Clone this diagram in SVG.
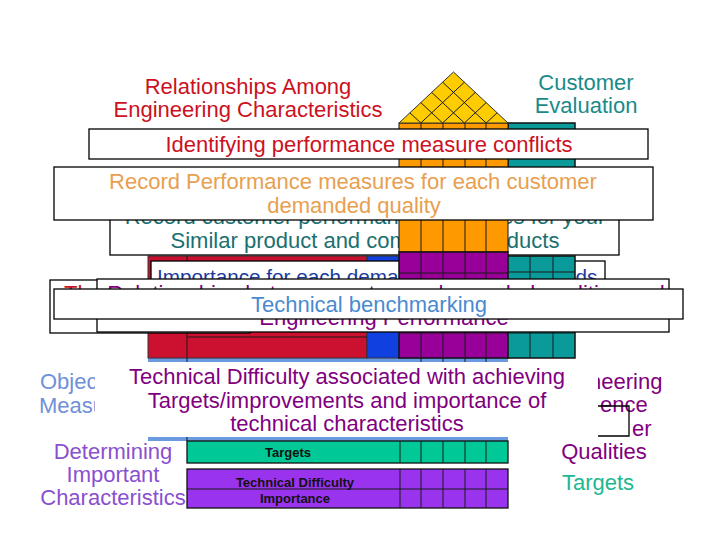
<svg xmlns="http://www.w3.org/2000/svg" width="720" height="540" viewBox="0 0 720 540">
<style>
text{font-family:"Liberation Sans",Arial,sans-serif;font-size:22px}
.c{text-anchor:middle}
.box{fill:#fff;stroke:#000;stroke-width:1.3}
.g{stroke:#1a1a1a;stroke-width:1;fill:none}
.red{fill:#cc1122}
.teal{fill:#1a8a8a}
.pur{fill:#800080}
.sm{font-size:13px;font-weight:bold;fill:#111}
</style>
<rect width="720" height="540" fill="#fff"/>

<g id="house-lower">
  <rect x="148" y="358" width="360" height="83" fill="#6a9ae0"/>
  <rect x="148" y="256" width="219" height="102" fill="#cc1030" stroke="#333" stroke-width="1"/>
  <rect x="367" y="256" width="33" height="102" fill="#1040e0" stroke="#333" stroke-width="1"/>
  <path class="g" d="M187 256V441M187 337H367M421 358V362M443 358V362M465 358V362M486 358V362"/>
</g>

<g id="box-th">
  <rect class="box" x="50" y="280" width="200" height="53"/>
  <text x="64" y="301" class="red">Th</text>
</g>

<g id="box-customer-performance">
  <rect class="box" x="110" y="195" width="509" height="60"/>
  <text x="365" y="224" class="c" fill="#1a7070">Record customer performance measures for your</text>
  <text x="365" y="248" class="c" fill="#1a7070">Similar product and competitor products</text>
</g>

<g id="box-importance">
  <rect class="box" x="151" y="261" width="454" height="45"/>
  <text x="157" y="284" fill="#1a3aa0" style="font-size:20.7px">Importance for each demanded customer needs</text>
</g>

<g id="house-grid">
  <rect x="508" y="123" width="67" height="52" fill="#0a9a9a" stroke="#111" stroke-width="1.5"/>
  <rect x="399" y="123" width="109" height="129" fill="#ff9900" stroke="#111" stroke-width="1"/>
  <path class="g" d="M421 123V252M443 123V252M465 123V252M486 123V252"/>
  <rect x="399" y="252" width="109" height="106" fill="#990099" stroke="#111" stroke-width="1.5"/>
  <path class="g" d="M421 252V358M443 252V358M465 252V358M486 252V358M399 273H508M399 293H508M399 313H508M399 333H508"/>
  <rect x="508" y="256" width="67" height="102" fill="#0a9a9a" stroke="#111" stroke-width="1.5"/>
  <path class="g" d="M530 256V358M553 256V358M508 272H575M508 293H575M508 313H575M508 333H575"/>
  <polygon points="399,123 508,123 453.5,72" fill="#ffcc00" stroke="#333" stroke-width="1"/>
  <path class="g" d="M420.8 123L464.4 82.2M442.6 123L475.3 92.4M464.4 123L486.2 102.6M486.2 123L497.1 112.8M420.8 123L409.9 112.8M442.6 123L420.8 102.6M464.4 123L431.7 92.4M486.2 123L442.6 82.2"/>
</g>

<g id="box-record-performance">
  <rect class="box" x="54" y="167" width="599" height="53"/>
  <text x="353" y="189" class="c" fill="#e8a050">Record Performance measures for each customer</text>
  <text x="354" y="213" class="c" fill="#e8a050">demanded quality</text>
</g>

<g id="box-identifying">
  <rect class="box" x="89" y="129" width="559" height="30"/>
  <text x="369" y="152" class="c red">Identifying performance measure conflicts</text>
</g>

<g id="box-relationships">
  <rect class="box" x="97" y="279" width="572" height="53"/>
  <text x="386" y="301" class="c pur">Relationships between customer demanded qualities and</text>
  <text x="384" y="325" class="c pur">Engineering Performance</text>
</g>

<g id="box-benchmarking">
  <rect class="box" x="54" y="289" width="629" height="30"/>
  <text x="369" y="312" class="c" fill="#4a8ad0">Technical benchmarking</text>
</g>

<g id="labels-top">
  <text x="248" y="94" class="c red">Relationships Among</text>
  <text x="248" y="117" class="c red">Engineering Characteristics</text>
  <text x="586" y="90" class="c teal">Customer</text>
  <text x="586" y="113" class="c teal">Evaluation</text>
</g>

<g id="side-texts">
  <text x="40" y="389" fill="#7090d8">Objec</text>
  <text x="39" y="413" fill="#7090d8">Measu</text>
  <text x="589" y="389" class="pur">neering</text>
  <text x="600" y="412" class="pur">ence</text>
  <text x="632" y="436" class="pur">er</text>
  <path d="M598 406H629V436H598" fill="none" stroke="#000" stroke-width="1.3"/>
  <text x="604" y="459" class="c pur">Qualities</text>
  <text x="598" y="490" class="c" fill="#20b890">Targets</text>
  <text x="113" y="459" class="c" fill="#8a50d0">Determining</text>
  <text x="113" y="482" class="c" fill="#8a50d0">Important</text>
  <text x="113" y="505" class="c" fill="#8a50d0">Characteristics</text>
</g>

<g id="box-technical-difficulty">
  <rect x="95" y="362" width="503" height="75" fill="#fff"/>
  <text x="347" y="384" class="c pur">Technical Difficulty associated with achieving</text>
  <text x="347" y="408" class="c pur">Targets/improvements and importance of</text>
  <text x="347" y="431" class="c pur">technical characteristics</text>
</g>

<g id="row-targets">
  <rect x="187" y="441" width="321" height="22" fill="#00c896" stroke="#111" stroke-width="1.3"/>
  <path class="g" d="M400 441V463M421 441V463M443 441V463M465 441V463M486 441V463"/>
  <text x="288" y="457" class="c sm">Targets</text>
</g>

<g id="row-difficulty-importance">
  <rect x="187" y="469" width="321" height="39" fill="#9933ee" stroke="#111" stroke-width="1.3"/>
  <path class="g" d="M187 489H508M400 469V508M421 469V508M443 469V508M465 469V508M486 469V508"/>
  <text x="295" y="487" class="c sm">Technical Difficulty</text>
  <text x="295" y="503" class="c sm">Importance</text>
</g>
</svg>
